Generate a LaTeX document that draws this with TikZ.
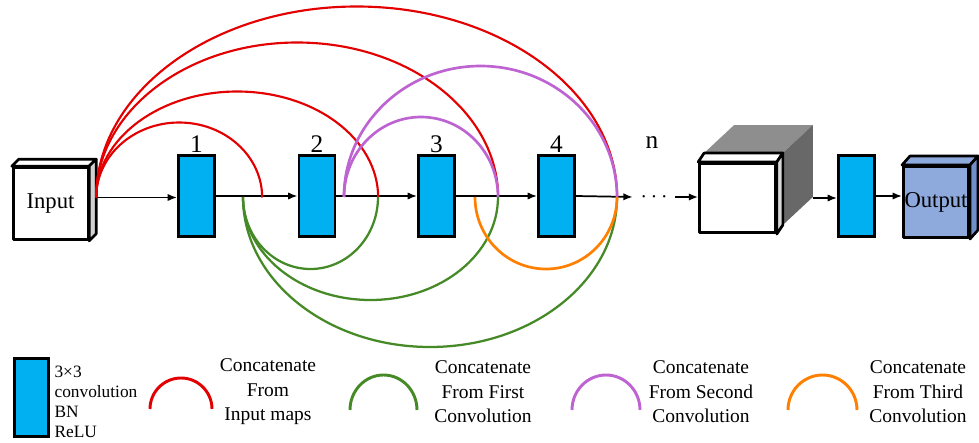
\documentclass[tikz,border=0pt]{standalone}
\usepackage{fontspec}
\setmainfont{Liberation Serif}
\usetikzlibrary{arrows.meta,positioning}

\definecolor{convblue}{RGB}{0,176,240}
\definecolor{outfront}{RGB}{142,169,219}
\definecolor{outside}{RGB}{112,142,200}
\definecolor{shadetop}{RGB}{142,142,142}
\definecolor{shadeside}{RGB}{104,104,104}
\definecolor{arcred}{RGB}{226,0,0}
\definecolor{arcgreen}{RGB}{70,138,40}
\definecolor{arcpurple}{RGB}{190,100,210}
\definecolor{arcorange}{RGB}{255,127,0}

\tikzset{
  convbox/.style={draw=black, line width=2.2pt, fill=convblue, minimum width=27pt, minimum height=61pt, inner sep=0pt},
  cubeface/.style={draw=black, line width=2pt, line join=round},
  flow/.style={line width=1.3pt, -{Latex[length=7pt,width=5.5pt]}},
  inmap/.style={arcred, line width=1.6pt},
  firstconv/.style={arcgreen, line width=1.7pt},
  secondconv/.style={arcpurple, line width=2pt},
  thirdconv/.style={arcorange, line width=2pt},
  numlbl/.style={font=\fontsize{19}{19}\selectfont, inner sep=1pt},
  legtxt/.style={font=\fontsize{14.6}{18.4}\selectfont, align=center, inner sep=0pt},
}

\begin{document}
\begin{tikzpicture}[x=0.75pt, y=-0.75pt]
  \useasboundingbox (0,0) rectangle (979,443);

  % Input cube
  \node[cubeface, fill=white, minimum width=56pt, minimum height=54pt, inner sep=0pt,
        font=\fontsize{17}{17}\selectfont] (input) at (50.5,203.5) {Input};
  \draw[cubeface, fill=white] (input.north west) -- ++(7,-7) -- ([shift={(7,-7)}]input.north east) -- (input.north east) -- cycle;
  \draw[cubeface, fill=gray!35] (input.north east) -- ++(7,-7) -- ([shift={(7,-7)}]input.south east) -- (input.south east) -- cycle;
  \coordinate (inR) at ([shift={(7,-6)}]input.east);

  % Convolution blocks
  \node[convbox] (b1) at (196.5,196) {};
  \node[convbox] (b2) at (317,196) {};
  \node[convbox] (b3) at (436.5,196) {};
  \node[convbox] (b4) at (556.5,196) {};
  \node[numlbl, above=0pt of b1] (n1) {1};
  \node[numlbl, above=0pt of b2] (n2) {2};
  \node[numlbl, above=0pt of b3] (n3) {3};
  \node[numlbl, above=0pt of b4] (n4) {4};
  \node[numlbl] (nn) at (652,143) {n};

  % Dots and large cube
  \node[minimum width=31.5pt, inner sep=0pt, font=\fontsize{17}{17}\selectfont] (dots) at (654,197) {$\cdots$};
  \node[cubeface, fill=white, minimum width=57pt, minimum height=52pt, inner sep=0pt] (big) at (737.5,198) {};
  \fill[shadetop] ([shift={(6,-9)}]big.north west) -- ([shift={(36,-37)}]big.north west)
     -- ([shift={(36,-37)}]big.north east) -- ([shift={(6,-9)}]big.north east) -- cycle;
  \fill[shadeside] ([shift={(6,-9)}]big.north east) -- ([shift={(36,-37)}]big.north east)
     -- ([shift={(36,-37)}]big.south east) -- ([shift={(6,-9)}]big.south east) -- cycle;
  \draw[cubeface, fill=white] (big.north west) -- ++(6,-9) -- ([shift={(6,-9)}]big.north east) -- (big.north east) -- cycle;
  \draw[cubeface, fill=gray!30] (big.north east) -- ++(6,-9) -- ([shift={(6,-9)}]big.south east) -- (big.south east) -- cycle;
  \coordinate (bigR) at ([shift={(36,0)}]big.east);

  % Last block and output cube
  \node[convbox] (b5) at (856.5,196) {};
  \node[cubeface, fill=outfront, minimum width=49pt, minimum height=53.5pt, inner sep=0pt,
        font=\fontsize{17}{17}\selectfont] (output) at (936,202) {Output};
  \draw[cubeface, fill=outfront] (output.north west) -- ++(8,-9) -- ([shift={(8,-9)}]output.north east) -- (output.north east) -- cycle;
  \draw[cubeface, fill=outside] (output.north east) -- ++(8,-9) -- ([shift={(8,-9)}]output.south east) -- (output.south east) -- cycle;

  % Main flow
  \draw[flow] (inR) -- (inR -| b1.west);
  \draw[flow] (b1.east) -- (b2.west);
  \draw[flow] (b2.east) -- (b3.west);
  \draw[flow] (b3.east) -- (b4.west);
  \draw[flow] (b4.east) -- (dots.west);
  \draw[flow] (dots.east) -- (dots.east -| big.west);
  \draw[flow] (bigR) -- (bigR -| b5.west);
  \draw[flow] (b5.east) -- (b5.east -| output.west);

  % Skip points on the line
  \coordinate (g0) at (243,197);
  \coordinate (p0) at (344,197);
  \coordinate (o0) at (475,197);

  % Concatenation arcs
  \foreach \rx/\ry in {83/75, 141/106, 201/155, 260.5/191}
    \draw[inmap] (inR) arc[start angle=180, end angle=360, x radius=\rx, y radius=\ry];
  \foreach \rx/\ry in {67.5/72, 127.5/103, 187/150}
    \draw[firstconv] (g0) arc[start angle=180, end angle=0, x radius=\rx, y radius=\ry];
  \foreach \rx/\ry in {77/80, 136.5/131}
    \draw[secondconv] (p0) arc[start angle=180, end angle=360, x radius=\rx, y radius=\ry];
  \draw[thirdconv] (o0) arc[start angle=180, end angle=0, x radius=71, y radius=72];

  % Legend
  \node[convbox, minimum width=26pt, minimum height=59pt] (legbox) at (31.5,397.5) {};
  \node[right=3pt of legbox, yshift=-3pt, align=left, inner sep=0pt,
        font=\fontsize{13}{15}\selectfont] (legconv) {3×3\\convolution\\BN\\ReLU};
  \coordinate (lgred) at (150,409);
  \coordinate (lggreen) at (350,410);
  \coordinate (lgpurple) at (572,410);
  \coordinate (lgorange) at (788,410);
  \draw[inmap, line width=2.2pt] (lgred) arc[start angle=180, end angle=360, x radius=31, y radius=31];
  \draw[firstconv, line width=2.2pt] (lggreen) arc[start angle=180, end angle=360, x radius=33.5, y radius=35];
  \draw[secondconv, line width=2.2pt] (lgpurple) arc[start angle=180, end angle=360, x radius=34, y radius=35];
  \draw[thirdconv, line width=2.2pt] (lgorange) arc[start angle=180, end angle=360, x radius=34.5, y radius=35];
  \node[legtxt] (txtred) at (268,392) {Concatenate\\From\\Input maps};
  \node[legtxt] (txtgreen) at (483,392) {Concatenate\\From First\\Convolution};
  \node[legtxt] (txtpurple) at (701,392) {Concatenate\\From Second\\Convolution};
  \node[legtxt] (txtorange) at (918,392) {Concatenate\\From Third\\Convolution};
\end{tikzpicture}
\end{document}
